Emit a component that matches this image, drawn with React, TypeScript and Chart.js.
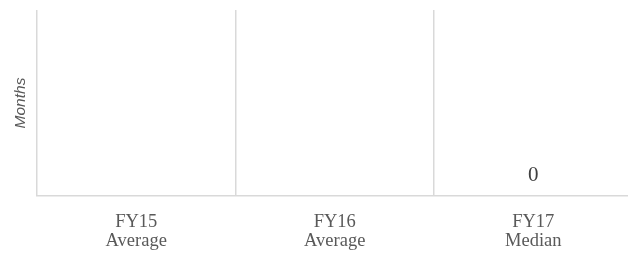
import React, { useEffect, useRef } from "react";
import { Chart, registerables } from "chart.js";

Chart.register(...registerables);

const categories: string[][] = [
  ["FY15", "Average"],
  ["FY16", "Average"],
  ["FY17", "Median"],
];
const seriesValues: (number | null)[] = [null, null, 0];
const yAxisTitle = "Months";

const valueLabelPlugin = {
  id: "valueLabels",
  afterDatasetsDraw(chart: any) {
    const ctx = chart.ctx;
    chart.data.datasets.forEach((ds: any, i: number) => {
      const meta = chart.getDatasetMeta(i);
      meta.data.forEach((el: any, j: number) => {
        const v = ds.data[j];
        if (v === null || v === undefined) return;
        ctx.save();
        ctx.font = "21px 'Liberation Serif'";
        ctx.fillStyle = "#404040";
        ctx.textAlign = "center";
        ctx.textBaseline = "alphabetic";
        ctx.fillText(String(v), el.x, el.y - 15);
        ctx.restore();
      });
    });
  },
};

export default function App() {
  const ref = useRef<HTMLCanvasElement | null>(null);
  useEffect(() => {
    if (!ref.current) return;
    const chart = new Chart(ref.current, {
      type: "bar",
      data: {
        labels: categories,
        datasets: [
          {
            data: seriesValues,
            backgroundColor: "#4472c4",
          },
        ],
      },
      plugins: [valueLabelPlugin],
      options: {
        animation: false,
        responsive: false,
        maintainAspectRatio: false,
        layout: { padding: { top: 10, right: 7.5, left: 0, bottom: 0 } },
        plugins: {
          legend: { display: false },
          tooltip: { enabled: false },
        },
        scales: {
          x: {
            offset: true,
            grid: {
              display: true,
              offset: true,
              color: "#d9d9d9",
              lineWidth: 1.5,
              drawTicks: false,
            },
            border: { display: true, color: "#d9d9d9", width: 1.5 },
            ticks: {
              color: "#595959",
              font: { family: "'Liberation Serif'", size: 18.5, lineHeight: 1.0 },
              padding: 17,
              maxRotation: 0,
              autoSkip: false,
            },
            afterFit(scale: any) {
              scale.height = 57;
            },
          },
          y: {
            min: 0,
            max: 10,
            grid: { display: false, drawTicks: false },
            border: { display: false },
            ticks: { display: false },
            title: {
              display: true,
              text: yAxisTitle,
              color: "#595959",
              font: { family: "'Liberation Sans'", size: 15.5, style: "italic", lineHeight: 1.2 },
              padding: { top: 11, bottom: 0 },
            },
            afterFit(scale: any) {
              scale.width = 37;
            },
          },
        },
      },
    });
    return () => chart.destroy();
  }, []);
  return (
    <div
      style={{
        position: "fixed",
        left: 0,
        top: 0,
        width: 628,
        height: 253,
        overflow: "hidden",
        background: "#ffffff",
      }}
    >
      <canvas ref={ref} width={640} height={253} style={{ width: 640, height: 253, display: "block" }} />
    </div>
  );
}
